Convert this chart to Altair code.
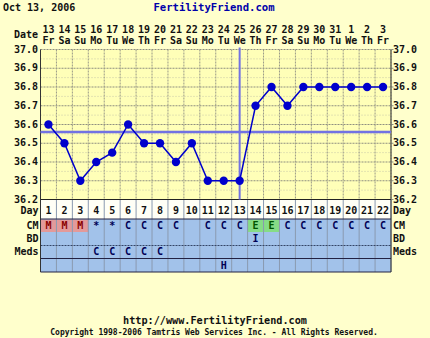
import altair as alt
import pandas as pd

# ---------------- data ----------------
report_date = "Oct 13, 2006"
site_title = "FertilityFriend.com"
footer_url = "http://www.FertilityFriend.com"
footer_copy = "Copyright 1998-2006 Tamtris Web Services Inc. - All Rights Reserved."

days = list(range(1, 23))
dates = ["13", "14", "15", "16", "17", "18", "19", "20", "21", "22", "23",
         "24", "25", "26", "27", "28", "29", "30", "31", "1", "2", "3"]
weekdays = ["Fr", "Sa", "Su", "Mo", "Tu", "We", "Th", "Fr", "Sa", "Su", "Mo",
            "Tu", "We", "Th", "Fr", "Sa", "Su", "Mo", "Tu", "We", "Th", "Fr"]
temps = [36.6, 36.5, 36.3, 36.4, 36.45, 36.6, 36.5, 36.5, 36.4, 36.5, 36.3,
         36.3, 36.3, 36.7, 36.8, 36.7, 36.8, 36.8, 36.8, 36.8, 36.8, 36.8]
cm = ["M", "M", "M", "*", "*", "C", "C", "C", "C", "", "C",
      "C", "C", "E", "E", "C", "C", "C", "C", "C", "C", "C"]
bd = ["", "", "", "", "", "", "", "", "", "", "",
      "", "", "I", "", "", "", "", "", "", "", ""]
meds = ["", "", "", "C", "C", "C", "C", "C", "", "", "",
        "", "", "", "", "", "", "", "", "", "", ""]
extra = ["", "", "", "", "", "", "", "", "", "", "",
         "H", "", "", "", "", "", "", "", "", "", ""]
temp_ticks = [37.0, 36.9, 36.8, 36.7, 36.6, 36.5, 36.4, 36.3, 36.2]
coverline = 36.56
ovulation_day = 13

# ---------------- layout / style ----------------
W, H = 430, 338
X0, X1 = 40.5, 391.0          # plot left / right (px)
YT, YB = 49.5, 199.5          # plot top / bottom (px)
FONT = "DejaVu Sans Mono"
BG = "#FFFFCC"
PLOT_BG = "#FFFFB8"
TABLE_BLUE = "#A2C2EA"

xs = alt.Scale(domain=[0.5, 22.5], range=[X0, X1], nice=False, zero=False)
ys = alt.Scale(domain=[36.2, 37.0], range=[YB, YT], nice=False, zero=False)


def X(f):
    return alt.X(f, type="quantitative", scale=xs, axis=None)


def Y(f):
    return alt.Y(f, type="quantitative", scale=ys, axis=None)


df = pd.DataFrame({"day": days, "date": dates, "wd": weekdays, "temp": temps,
                   "cm": cm, "bd": bd, "meds": meds, "extra": extra})
df["x0"] = df["day"] - 0.5
df["x1"] = df["day"] + 0.5

bounds = pd.DataFrame({"b": [d - 0.5 for d in days] + [days[-1] + 0.5]})
major = pd.DataFrame({"t": temp_ticks})
minor = pd.DataFrame({"t": [round(t - 0.05, 2) for t in temp_ticks[:-1]]})
plot_box = pd.DataFrame({"a": [days[0] - 0.5], "b": [days[-1] + 0.5],
                         "lo": [temp_ticks[-1]], "hi": [temp_ticks[0]]})
cover_df = pd.DataFrame({"v": [coverline]})
ov_df = pd.DataFrame({"d": [ovulation_day]})

layers = []

# plot area background
layers.append(alt.Chart(plot_box).mark_rect(color=PLOT_BG).encode(
    x=X("a"), x2="b", y=Y("hi"), y2="lo"))

# day row background (white)
layers.append(alt.Chart(plot_box).mark_rect(color="#FFFFF6").encode(
    x=X("a"), x2="b", y=alt.value(YB), y2=alt.value(219)))

# blue table rows
layers.append(alt.Chart(plot_box).mark_rect(color=TABLE_BLUE).encode(
    x=X("a"), x2="b", y=alt.value(219), y2=alt.value(272)))

# coloured CM cells
for letter, fill in [("M", "#E39A9A"), ("E", "#86DC86")]:
    layers.append(alt.Chart(df).transform_filter(
        f"datum.cm == '{letter}'").mark_rect(color=fill).encode(
        x=X("x0"), x2="x1", y=alt.value(219.5), y2=alt.value(232)))

# minor / major horizontal grid
layers.append(alt.Chart(minor).mark_rule(color="#C8C8A8", strokeWidth=1,
                                         strokeDash=[1, 2]).encode(
    y=Y("t"), x=alt.value(X0), x2=alt.value(X1)))
layers.append(alt.Chart(major).mark_rule(color="#8F8F80", strokeWidth=1,
                                         strokeDash=[2, 1]).encode(
    y=Y("t"), x=alt.value(X0), x2=alt.value(X1 + 3)))

# vertical grid in plot
layers.append(alt.Chart(bounds).mark_rule(color="#9A9A88", strokeWidth=1,
                                          strokeDash=[2, 1]).encode(
    x=X("b"), y=alt.value(YT), y2=alt.value(YB)))
# vertical separators in table
layers.append(alt.Chart(bounds).mark_rule(color="#8A9AB0", strokeWidth=1).encode(
    x=X("b"), y=alt.value(YB), y2=alt.value(272)))

# table horizontal lines
for yy, dash, col in [(219, None, "#222244"), (245.5, [2, 1], "#334466"),
                      (258.5, None, "#222244"), (272, None, "#222244"),
                      (YB, None, "#222222")]:
    kw = dict(color=col, strokeWidth=1)
    if dash:
        kw["strokeDash"] = dash
    layers.append(alt.Chart(plot_box).mark_rule(**kw).encode(
        x=X("a"), x2="b", y=alt.value(yy)))

# left / right borders
for xx in ["a", "b"]:
    layers.append(alt.Chart(plot_box).mark_rule(color="#333333", strokeWidth=1).encode(
        x=X(xx), y=alt.value(YT), y2=alt.value(272)))

# coverline and ovulation line
layers.append(alt.Chart(cover_df).mark_rule(color="#7272E2", strokeWidth=2.5).encode(
    y=Y("v"), x=alt.value(X0), x2=alt.value(X1)))
layers.append(alt.Chart(ov_df).mark_rule(color="#7272E2", strokeWidth=2).encode(
    x=X("d"), y=alt.value(YT - 2), y2=alt.value(YB)))

# temperature line + dots
layers.append(alt.Chart(df).mark_line(color="#0000CC", strokeWidth=1.5).encode(
    x=X("day"), y=Y("temp")))
layers.append(alt.Chart(df).mark_point(filled=True, color="#0000CC", size=70,
                                       opacity=1).encode(
    x=X("day"), y=Y("temp")))

txt = dict(font=FONT, fontWeight="bold", fontSize=10)

# temperature labels left / right
layers.append(alt.Chart(major).mark_text(align="right", baseline="middle",
                                         color="#111111", **txt).encode(
    y=Y("t"), x=alt.value(38), text=alt.Text("t:Q", format=".1f")))
layers.append(alt.Chart(major).mark_text(align="left", baseline="middle",
                                         color="#111111", **txt).encode(
    y=Y("t"), x=alt.value(393), text=alt.Text("t:Q", format=".1f")))

# dates + weekdays
layers.append(alt.Chart(df).mark_text(baseline="middle", color="#111111", **txt).encode(
    x=X("day"), y=alt.value(30), text="date:N"))
layers.append(alt.Chart(df).mark_text(baseline="middle", color="#111111", **txt).encode(
    x=X("day"), y=alt.value(41), text="wd:N"))

# day numbers
layers.append(alt.Chart(df).mark_text(baseline="middle", color="#111111", **txt).encode(
    x=X("day"), y=alt.value(210.5), text="day:Q"))

# table texts
row_specs = [("cm", 226), ("bd", 239), ("meds", 252), ("extra", 265.5)]
for field, yy in row_specs:
    for cond, col in [(f"datum.{field} == 'M'", "#8A0000"),
                      (f"datum.{field} == 'E'", "#005500"),
                      (f"datum.{field} != '' && datum.{field} != 'M' && datum.{field} != 'E'",
                       "#000055")]:
        layers.append(alt.Chart(df).transform_filter(cond).mark_text(
            baseline="middle", color=col, **txt).encode(
            x=X("day"), y=alt.value(yy), text=f"{field}:N"))

# row labels
row_labels = ["Day", "CM", "BD", "Meds"]
row_label_y = [210.5, 226, 239, 252]
for lab, yy in zip(row_labels, row_label_y):
    one = pd.DataFrame({"lab": [lab]})
    layers.append(alt.Chart(one).mark_text(align="right", baseline="middle",
                                           color="#111111", **txt).encode(
        x=alt.value(38.5), y=alt.value(yy), text="lab:N"))
    layers.append(alt.Chart(one).mark_text(align="left", baseline="middle",
                                           color="#111111", **txt).encode(
        x=alt.value(393), y=alt.value(yy), text="lab:N"))


# header / footer text
def label(s, x, y, align="left", size=10, color="#111111"):
    return alt.Chart(pd.DataFrame({"s": [s]})).mark_text(
        align=align, baseline="middle", font=FONT, fontWeight="bold",
        fontSize=size, color=color).encode(
        x=alt.value(x), y=alt.value(y), text="s:N")


layers.append(label(report_date, 3, 8))
layers.append(label(site_title, 214, 8, align="center", size=10.6, color="#0000AA"))
layers.append(label("Date", 38, 35, align="right"))
layers.append(label(footer_url, 215, 321, align="center", size=10.2))
layers.append(label(footer_copy, 214, 333, align="center", size=8))

chart = alt.layer(*layers).properties(
    width=W, height=H, padding=0,
    autosize=alt.AutoSizeParams(type="none"),
    background=BG,
).configure_view(stroke=None)

chart.save("out.html", embed_options={"renderer": "svg", "actions": False})
